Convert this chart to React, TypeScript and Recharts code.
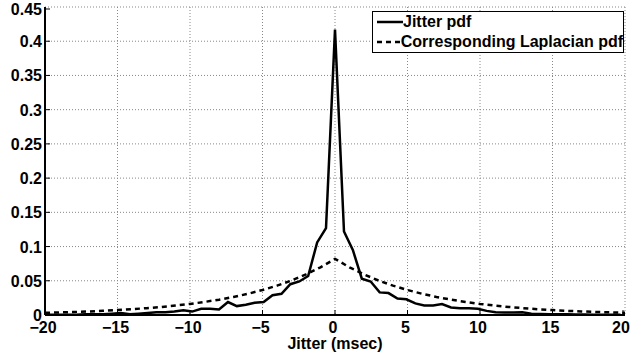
import React from "react";
import {
  LineChart,
  Line,
  XAxis,
  YAxis,
  CartesianGrid,
  Legend,
} from "recharts";

const FONT = '"Liberation Sans", Arial, Helvetica, sans-serif';

// histogram bin centres (msec)
const jitterX = [
  -19.69, -19.08, -18.46, -17.85, -17.23, -16.62, -16.0, -15.38, -14.77, -14.15,
  -13.54, -12.92, -12.31, -11.69, -11.08, -10.46, -9.85, -9.23, -8.62, -8.0,
  -7.38, -6.77, -6.15, -5.54, -4.92, -4.31, -3.69, -3.08, -2.46, -1.85, -1.23,
  -0.62, 0, 0.62, 1.23, 1.85, 2.46, 3.08, 3.69, 4.31, 4.92, 5.54, 6.15, 6.77,
  7.38, 8.0, 8.62, 9.23, 9.85, 10.46, 11.08, 11.69, 12.31, 12.92, 13.54, 14.15,
  14.77, 15.38, 16.0, 16.62, 17.23, 17.85, 18.46, 19.08, 19.69,
];
const jitterPdf = [
  0.0003, 0.0003, 0.0005, 0.0005, 0.001, 0.001, 0.001, 0.002, 0.003, 0.001,
  0.002, 0.003, 0.004, 0.004, 0.005, 0.007, 0.005, 0.009, 0.009, 0.008, 0.019,
  0.013, 0.015, 0.018, 0.019, 0.029, 0.031, 0.045, 0.049, 0.057, 0.106, 0.127,
  0.417, 0.122, 0.095, 0.053, 0.049, 0.033, 0.032, 0.024, 0.023, 0.017, 0.014,
  0.014, 0.016, 0.011, 0.01, 0.0098, 0.009, 0.006, 0.004, 0.0035, 0.0035, 0.004,
  0.002, 0.0015, 0.001, 0.001, 0.001, 0.0007, 0.0006, 0.0005, 0.0004, 0.0003,
  0.0003,
];

const laplaceX = [
  -20, -19, -18, -17, -16, -15, -14, -13, -12, -11, -10, -9, -8, -7, -6, -5, -4,
  -3, -2, -1, 0, 1, 2, 3, 4, 5, 6, 7, 8, 9, 10, 11, 12, 13, 14, 15, 16, 17, 18,
  19, 20,
];
const laplacePdf = [
  0.0032, 0.0038, 0.0044, 0.0052, 0.0061, 0.0072, 0.0085, 0.01, 0.0117, 0.0138,
  0.0162, 0.0191, 0.0224, 0.0264, 0.031, 0.0365, 0.0429, 0.0504, 0.0593, 0.0697,
  0.082, 0.0697, 0.0593, 0.0504, 0.0429, 0.0365, 0.031, 0.0264, 0.0224, 0.0191,
  0.0162, 0.0138, 0.0117, 0.01, 0.0085, 0.0072, 0.0061, 0.0052, 0.0044, 0.0038,
  0.0032,
];

const xTicks = [-20, -15, -10, -5, 0, 5, 10, 15, 20];
const yTicks = [0, 0.05, 0.1, 0.15, 0.2, 0.25, 0.3, 0.35, 0.4, 0.45];

const jitterData = jitterX.map((x, i) => ({ x, p: jitterPdf[i] }));
const laplaceData = laplaceX.map((x, i) => ({ x, p: laplacePdf[i] }));

const fmtX = (v: number) => (v < 0 ? "\u2212" + Math.abs(v) : String(v));

const labelStyle = {
  fontSize: 16,
  fontWeight: "bold" as const,
  fontFamily: FONT,
  fill: "#000",
};

function BottomTick({ x, y, payload }: any) {
  return (
    <g>
      <line x1={x} y1={y} x2={x} y2={y - 5} stroke="#000" strokeWidth={1} />
      <text x={x - 2} y={y + 18} textAnchor="middle" {...labelStyle}>
        {fmtX(payload.value)}
      </text>
    </g>
  );
}

function LeftTick({ x, y, payload }: any) {
  return (
    <g>
      <line x1={x} y1={y} x2={x + 5} y2={y} stroke="#000" strokeWidth={1} />
      <text x={x - 3} y={y + 6} textAnchor="end" {...labelStyle}>
        {String(payload.value)}
      </text>
    </g>
  );
}

function TopTick({ x, y }: any) {
  return <line x1={x} y1={y} x2={x} y2={y + 5} stroke="#000" strokeWidth={1} />;
}

function RightTick({ x, y }: any) {
  return <line x1={x} y1={y} x2={x - 5} y2={y} stroke="#000" strokeWidth={1} />;
}

function LegendBox() {
  const row = { display: "flex", alignItems: "center", height: 20 };
  return (
    <div
      style={{
        width: 252,
        height: 42,
        boxSizing: "border-box",
        border: "1.5px solid #000",
        background: "#fff",
        fontFamily: FONT,
        fontWeight: "bold",
        fontSize: 16,
        color: "#000",
        paddingTop: 0,
        lineHeight: "20px",
        whiteSpace: "nowrap",
      }}
    >
      <div style={row}>
        <svg width={30} height={20}>
          <line x1={4} y1={10} x2={30} y2={10} stroke="#000" strokeWidth={2.5} />
        </svg>
        <span>Jitter pdf</span>
      </div>
      <div style={row}>
        <svg width={30} height={20}>
          <line
            x1={4}
            y1={10}
            x2={30}
            y2={10}
            stroke="#000"
            strokeWidth={2.5}
            strokeDasharray="5 4"
          />
        </svg>
        <span>Corresponding Laplacian pdf</span>
      </div>
    </div>
  );
}

export default function App() {
  return (
    <div style={{ position: "absolute", left: 0, top: 0, background: "#fff" }}>
      <LineChart
        width={631}
        height={356}
        margin={{ top: 7, right: 6, bottom: 0, left: 0 }}
      >
        <CartesianGrid stroke="#888" strokeDasharray="1 2" />
        <XAxis
          dataKey="x"
          type="number"
          domain={[-20, 20]}
          ticks={xTicks}
          height={41}
          tickSize={0}
          tickMargin={0}
          tickLine={false}
          tick={<BottomTick />}
          axisLine={{ stroke: "#000", strokeWidth: 2 }}
          label={{
            value: "Jitter (msec)",
            position: "insideBottom",
            offset: 7,
            ...labelStyle,
          }}
        />
        <XAxis
          xAxisId="top"
          orientation="top"
          type="number"
          domain={[-20, 20]}
          ticks={xTicks}
          height={0}
          tickSize={0}
          tickMargin={0}
          tickLine={false}
          tick={<TopTick />}
          axisLine={{ stroke: "#000", strokeWidth: 2 }}
        />
        <YAxis
          type="number"
          domain={[0, 0.45]}
          ticks={yTicks}
          width={45}
          tickSize={0}
          tickMargin={0}
          tickLine={false}
          tick={<LeftTick />}
          axisLine={{ stroke: "#000", strokeWidth: 2 }}
        />
        <YAxis
          yAxisId="right"
          orientation="right"
          type="number"
          domain={[0, 0.45]}
          ticks={yTicks}
          width={0}
          tickSize={0}
          tickMargin={0}
          tickLine={false}
          tick={<RightTick />}
          axisLine={{ stroke: "#000", strokeWidth: 2 }}
        />
        <Line
          data={laplaceData}
          dataKey="p"
          stroke="#000"
          strokeWidth={2.5}
          strokeDasharray="5 4"
          dot={false}
          isAnimationActive={false}
        />
        <Line
          data={jitterData}
          dataKey="p"
          stroke="#000"
          strokeWidth={2.5}
          dot={false}
          isAnimationActive={false}
        />
        <Legend
          layout="vertical"
          align="center"
          verticalAlign="middle"
          content={<LegendBox />}
          wrapperStyle={{ left: 372, top: 11, width: 252, height: 42 }}
        />
      </LineChart>
    </div>
  );
}
